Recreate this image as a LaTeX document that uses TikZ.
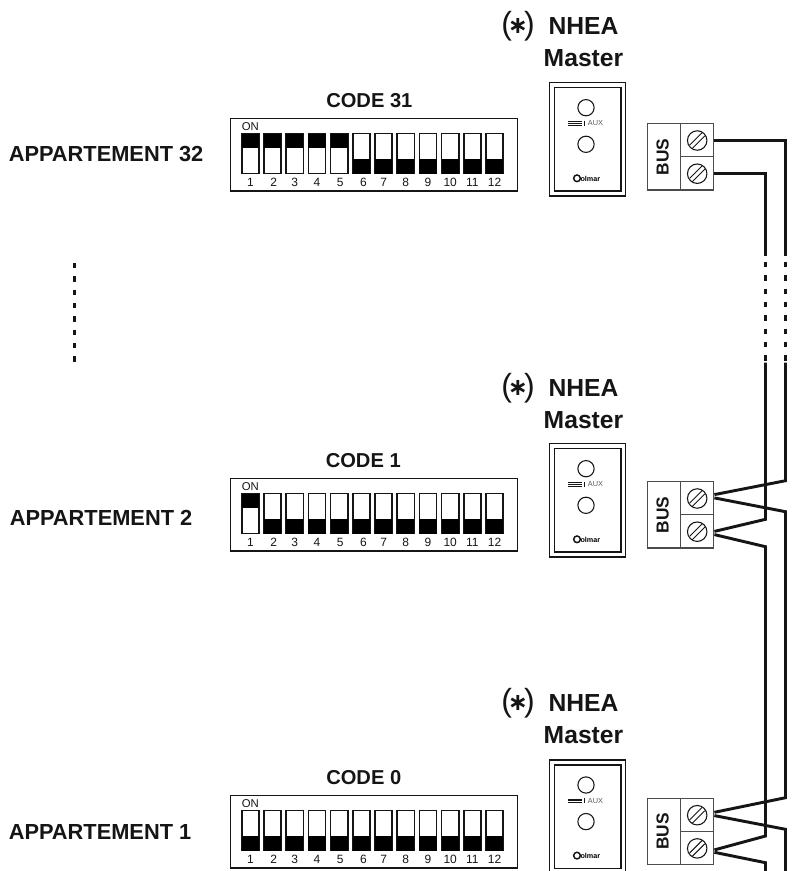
\documentclass[tikz,border=0pt]{standalone}
\usepackage{fontspec}
\setmainfont{Liberation Sans}
\newfontfamily\dejavu{DejaVu Sans}
\usetikzlibrary{calc}
\definecolor{ink}{HTML}{151515}
\tikzset{
  boxline/.style={draw=ink,line width=1.1pt},
  swline/.style={draw=ink,line width=1.2pt,fill=white},
  aptlabel/.style={anchor=west,inner sep=0pt,text=ink,font=\bfseries\fontsize{16.35}{16.35}\selectfont},
  codelabel/.style={anchor=west,inner sep=0pt,text=ink,font=\bfseries\fontsize{15.1}{15.1}\selectfont},
  titlelabel/.style={inner sep=0pt,text=ink,font=\bfseries\fontsize{18.5}{18.5}\selectfont},
  starlabel/.style={inner sep=0pt,text=ink,font=\fontsize{24}{24}\selectfont},
  numlabel/.style={inner sep=0pt,text=ink,font=\fontsize{9}{9}\selectfont},
  onlabel/.style={anchor=west,inner sep=0pt,text=ink,font=\fontsize{8.5}{8.5}\selectfont},
  auxlabel/.style={inner sep=0pt,text=black!65,font=\fontsize{5.5}{5.5}\selectfont},
  logolabel/.style={inner sep=0pt,text=black,font=\bfseries\fontsize{5.4}{5.4}\selectfont},
  buslabel/.style={inner sep=0pt,text=ink,rotate=90,font=\bfseries\fontsize{13}{13}\selectfont},
  termcell/.style={draw=black!70,line width=0.9pt,inner sep=0pt,minimum width=24.9pt,minimum height=24.9pt,anchor=north west},
  buscell/.style={draw=black!70,line width=0.9pt,inner sep=0pt,minimum width=24.75pt,minimum height=49.8pt,anchor=north west},
  screw/.style={draw=ink,line width=0.8pt,circle,inner sep=0pt,minimum size=14.6pt},
  wire/.style={draw=ink,line width=2.2pt,line join=miter},
  brokenwire/.style={draw=ink,line width=2.2pt,dash pattern=on 3.9pt off 6.1pt},
}
% dip row: #1 prefix, #2 y offset of dip, #3 switches on
\newcommand{\diprow}[3]{%
  \node[boxline,inner sep=0pt,minimum width=215.6pt,minimum height=54.2pt,anchor=north west] (#1box) at (229.5,118+#2) {};
  \node[onlabel] (#1on) at (241.5,126.5+#2) {ON};
  \foreach \i/\d in {1/0,2/1,3/0,4/0,5/1,6/2,7/0,8/0,9/0,10/0,11/0,12/0}{%
    \pgfmathsetmacro{\xa}{241.8+(\i-1)*22.2}%
    \draw[swline] (\xa,133.5+#2) rectangle ++(17.2,40);
    \ifnum\i>#3\relax
      \fill[black] (\xa,159.3+#2) rectangle ++(17.2,14.2);
    \else
      \fill[black] (\xa,133.5+#2) rectangle ++(17.2,14.8);
    \fi
    \node[numlabel] (#1n\i) at (\xa+8.6+\d,182.3+#2) {\i};
  }%
}
% device: #1 prefix, #2 y offset of labels, #3 y offset of plate
\newcommand{\device}[3]{%
  \node[starlabel] (#1star) at (518,26+#2) {(\kern-3pt\raisebox{0.02em}{\dejavu\bfseries\fontsize{18}{18}\selectfont ∗}\kern-3pt)};
  \node[titlelabel] (#1nhea) at (583.5,26+#2) {NHEA};
  \node[titlelabel] (#1master) at (583.5,58+#2) {Master};
  \node[draw=ink,line width=1.1pt,inner sep=0pt,minimum width=57pt,minimum height=85pt,anchor=north west] (#1outer) at (549,82+#3) {};
  \node[draw=ink,line width=1.1pt,inner sep=0pt,minimum width=50pt,minimum height=77.5pt,anchor=north west] (#1inner) at (553.5,87+#3) {};
  \node[draw=ink,line width=0.8pt,circle,inner sep=0pt,minimum size=12.2pt] (#1ca) at (586,107.7+#3) {};
  \node[draw=ink,line width=0.8pt,circle,inner sep=0pt,minimum size=12.2pt] (#1cb) at (586,144.3+#3) {};
  \foreach \yy in {121.5,123.3,125.1}{\draw[ink,line width=0.45pt] (568,\yy+#3) -- (582,\yy+#3);}
  \draw[ink,line width=0.9pt] (584.5,120.5+#3) -- (584.5,126+#3);
  \node[auxlabel] (#1aux) at (595.5,123.3+#3) {AUX};
  \node[draw=ink,line width=1.1pt,circle,inner sep=0pt,minimum size=5pt] (#1logoc) at (577,178.3+#3) {};
  \node[logolabel,anchor=west] (#1logo) at (580.3,178.5+#3) {olmar};
}
% terminal: #1 prefix, #2 y offset
\newcommand{\terminal}[2]{%
  \node[buscell] (#1bus) at (647,123+#2) {};
  \node[buslabel] at ($(#1bus.center)+(-1.5,0)$) {BUS};
  \node[termcell] (#1a) at (680,123+#2) {};
  \node[termcell] (#1b) at (680,156.2+#2) {};
  \foreach \s in {a,b}{%
    \node[screw] (#1s\s) at ($(#1\s.center)+(0,0.3)$) {};
    \draw[ink,line width=0.7pt] ($(#1s\s.center)+(-7.5,4.5)$) -- ($(#1s\s.center)+(5,-8)$);
    \draw[ink,line width=0.7pt] ($(#1s\s.center)+(-5,8)$) -- ($(#1s\s.center)+(7.5,-4.5)$);
  }%
}
\begin{document}
\begin{tikzpicture}[x=0.75pt,y=-0.75pt]
\useasboundingbox (0,0) rectangle (798,871);
\clip (0,0) rectangle (798,871);
\node[aptlabel] (apt32) at (8.5,154.5) {APPARTEMENT 32};
\node[aptlabel] (apt2) at (9.5,517.5) {APPARTEMENT 2};
\node[aptlabel] (apt1) at (8.5,831.5) {APPARTEMENT 1};
\node[codelabel] (code31) at (326,100.3) {CODE 31};
\node[codelabel] (code1) at (325.5,460.5) {CODE 1};
\node[codelabel] (code0) at (326,778) {CODE 0};
\diprow{p}{0}{5}
\diprow{q}{360}{1}
\diprow{r}{677}{0}
\device{p}{0}{0}
\device{q}{362}{361}
\device{r}{677}{677.3}
\terminal{p}{0}
\terminal{q}{358}
\terminal{r}{674.7}
% dotted column at the left
\coordinate (da) at (74.5,263);
\coordinate (db) at (74.5,362);
\draw[brokenwire] (da) -- (db);
% free wire ends
\coordinate (wa2) at (765.5,255.5);
\coordinate (wb2) at (785.5,255.5);
\coordinate (wa3) at (765.5,262);
\coordinate (wb3) at (785.5,262);
\coordinate (wa4) at (765.5,362.5);
\coordinate (wb4) at (785.5,362.5);
\coordinate (wa5) at (765.5,519.3);
\coordinate (wb5) at (785.5,480.7);
\coordinate (wa6) at (765.5,546.7);
\coordinate (wb6) at (785.5,511.7);
\coordinate (wa7) at (765.5,836);
\coordinate (wb7) at (785.5,797.7);
\coordinate (wa8) at (765.5,862.7);
\coordinate (wb8) at (785.5,829.3);
\coordinate (wa9) at (765.5,875);
\coordinate (wb9) at (785.5,875);
% top terminal
\draw[wire] (pa.east) -| (wb2);
\draw[wire] (pb.east) -| (wa2);
\draw[brokenwire] (wa3) -- ($(wa4)+(0,-2)$);
\draw[brokenwire] (wb3) -- ($(wb4)+(0,-2)$);
% middle terminal
\draw[wire] (wb4) -- (wb5) -- ($(qa.east)+(0,-3.6)$);
\draw[wire] ($(qa.east)+(0,-0.3)$) -- (wb6) -- (wb7) -- ($(ra.east)+(0,-2.6)$);
\draw[wire] (wa4) -- (wa5) -- ($(qb.east)+(0,0)$);
\draw[wire] ($(qb.east)+(0,3.2)$) -- (wa6) -- (wa7) -- ($(rb.east)+(0,1.8)$);
% bottom terminal
\draw[wire] ($(ra.east)+(0,0.7)$) -- (wb8) -- (wb9);
\draw[wire] ($(rb.east)+(0,4.2)$) -- (wa8) -- (wa9);
\end{tikzpicture}
\end{document}
